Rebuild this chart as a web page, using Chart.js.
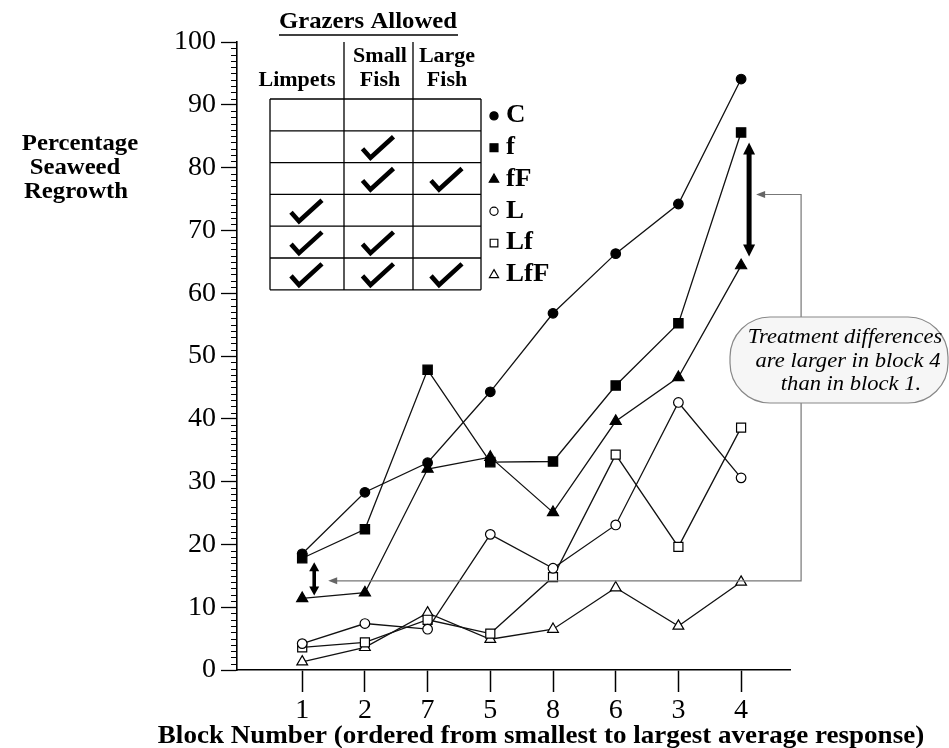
<!DOCTYPE html>
<html>
<head>
<meta charset="utf-8">
<script src="https://cdn.jsdelivr.net/npm/chart.js@4.4.1/dist/chart.umd.min.js"></script>
<style>
  html, body { margin: 0; padding: 0; background: #fff; }
</style>
</head>
<body>
<canvas id="myChart" width="949" height="748"></canvas>
<script>
'use strict';

// blocks, in the order they appear on the x axis
const blocks = ['1', '2', '7', '5', '8', '6', '3', '4'];
const treatments = ['C', 'f', 'fF', 'L', 'Lf', 'LfF'];

// percentage seaweed regrowth per block
const valuesC = [18.5, 28.3, 33.0, 44.3, 56.8, 66.3, 74.2, 94.1];
const valuesF = [17.8, 22.4, 47.8, 33.1, 33.2, 45.3, 55.2, 85.6];
const valuesFF = [11.4, 12.3, 32.0, 33.9, 25.1, 39.6, 46.6, 64.4];
const valuesL = [4.2, 7.4, 6.5, 21.6, 16.2, 23.1, 42.6, 30.6];
const valuesLf = [3.6, 4.4, 8.0, 5.8, 14.8, 34.3, 19.6, 38.6];
const valuesLfF = [1.3, 3.6, 9.1, 4.9, 6.5, 13.1, 7.0, 14.0];

// which grazers were let in, per treatment
const limpets = [false, false, false, true, true, true];
const smallFish = [false, true, true, false, true, true];
const largeFish = [false, false, true, false, false, true];

const yTicks = [0, 10, 20, 30, 40, 50, 60, 70, 80, 90, 100];

const serif = '"Liberation Serif", "Times New Roman", serif';
const stretch = 1.1;

const markers = [
    { style: 'circle', radius: 4.8, filled: true },
    { style: 'rect', radius: 6.6, filled: true },
    { style: 'triangle', radius: 6.4, filled: true },
    { style: 'circle', radius: 4.8, filled: false },
    { style: 'rect', radius: 6.4, filled: false },
    { style: 'triangle', radius: 6.2, filled: false },
];

const allValues = [valuesC, valuesF, valuesFF, valuesL, valuesLf, valuesLfF];

const datasets = treatments.map((name, k) => ({
    label: name,
    data: allValues[k].map((v, i) => ({ x: i, y: v })),
    borderColor: '#111',
    borderWidth: 1.3,
    tension: 0,
    pointStyle: markers[k].style,
    pointRadius: markers[k].radius,
    pointBorderWidth: 1.2,
    pointBorderColor: '#000',
    pointBackgroundColor: markers[k].filled ? '#000' : '#fff',
}));

function drawText(ctx, text, x, y, font, align) {
    ctx.save();
    ctx.font = font;
    ctx.fillStyle = '#000';
    ctx.textAlign = align || 'center';
    ctx.textBaseline = 'middle';
    ctx.translate(x, y);
    ctx.scale(stretch, 1);
    ctx.fillText(text, 0, 0);
    ctx.restore();
}

function drawCheck(ctx, cx, cy) {
    ctx.save();
    ctx.beginPath();
    ctx.moveTo(cx - 16, cy + 1);
    ctx.lineTo(cx - 8, cy + 10);
    ctx.lineTo(cx + 15, cy - 11);
    ctx.lineWidth = 4.6;
    ctx.strokeStyle = '#000';
    ctx.lineJoin = 'miter';
    ctx.stroke();
    ctx.restore();
}

function doubleArrow(ctx, x, y1, y2, w, hw, hl) {
    ctx.save();
    ctx.strokeStyle = '#000';
    ctx.fillStyle = '#000';
    ctx.lineWidth = w;
    ctx.beginPath();
    ctx.moveTo(x, y1 + hl - 1);
    ctx.lineTo(x, y2 - hl + 1);
    ctx.stroke();
    ctx.beginPath();
    ctx.moveTo(x, y1);
    ctx.lineTo(x - hw / 2, y1 + hl);
    ctx.lineTo(x + hw / 2, y1 + hl);
    ctx.closePath();
    ctx.fill();
    ctx.beginPath();
    ctx.moveTo(x, y2);
    ctx.lineTo(x - hw / 2, y2 - hl);
    ctx.lineTo(x + hw / 2, y2 - hl);
    ctx.closePath();
    ctx.fill();
    ctx.restore();
}

function arrowHeadLeft(ctx, x, y) {
    ctx.beginPath();
    ctx.moveTo(x, y);
    ctx.lineTo(x + 9, y - 3.5);
    ctx.lineTo(x + 9, y + 3.5);
    ctx.closePath();
    ctx.fill();
}

// minor ticks on the y axis, every 1 %
const minorTicks = {
    id: 'minorTicks',
    afterDraw(chart) {
        const ctx = chart.ctx;
        const y = chart.scales.y;
        const left = chart.chartArea.left;
        ctx.save();
        ctx.strokeStyle = '#000';
        ctx.lineWidth = 1;
        for (let v = 0; v <= 100; v++) {
            if (v % 10 === 0) continue;
            const py = Math.round(y.getPixelForValue(v)) + 0.5;
            ctx.beginPath();
            ctx.moveTo(left - 6, py);
            ctx.lineTo(left, py);
            ctx.stroke();
        }
        ctx.restore();
    },
};

// arrows and the note box
const notes = {
    id: 'notes',
    afterDatasetsDraw(chart) {
        const ctx = chart.ctx;
        const xs = chart.scales.x;
        const ys = chart.scales.y;
        const last = blocks.length - 1;

        const x1 = xs.getPixelForValue(0) + 12;
        const a1 = ys.getPixelForValue(valuesF[0]) + 4;
        const b1 = ys.getPixelForValue(valuesFF[0]) - 3;
        const x4 = xs.getPixelForValue(last) + 8;
        const a4 = ys.getPixelForValue(valuesF[last]) + 10;
        const b4 = ys.getPixelForValue(valuesFF[last]) - 9;

        const mid1 = (a1 + b1) / 2 + 2;
        const mid4 = (a4 + b4) / 2 - 5;
        const vx = xs.getPixelForValue(last) + 60;
        const boxTop = 317;
        const boxBottom = 403;

        // grey connector
        ctx.save();
        ctx.strokeStyle = '#777';
        ctx.fillStyle = '#666';
        ctx.lineWidth = 1.2;
        ctx.beginPath();
        ctx.moveTo(x1 + 22, mid1);
        ctx.lineTo(vx, mid1);
        ctx.lineTo(vx, boxBottom);
        ctx.moveTo(vx, boxTop);
        ctx.lineTo(vx, mid4);
        ctx.lineTo(x4 + 14, mid4);
        ctx.stroke();
        arrowHeadLeft(ctx, x1 + 14, mid1);
        arrowHeadLeft(ctx, x4 + 7, mid4);
        ctx.restore();

        doubleArrow(ctx, x1, a1, b1, 3.6, 10, 9);
        doubleArrow(ctx, x4, a4, b4, 5, 12, 12);

        // rounded note box
        ctx.save();
        ctx.beginPath();
        ctx.roundRect(730, boxTop, 218, boxBottom - boxTop, 40);
        ctx.fillStyle = '#f6f6f6';
        ctx.fill();
        ctx.strokeStyle = '#888';
        ctx.lineWidth = 1.2;
        ctx.stroke();
        ctx.restore();

        const noteFont = 'italic 20.5px ' + serif;
        drawText(ctx, 'Treatment differences', 845, 338, noteFont);
        drawText(ctx, 'are larger in block 4', 848, 362, noteFont);
        drawText(ctx, 'than in block 1.', 851, 385, noteFont);
    },
};

// grazer table, legend and axis titles
const tableLegend = {
    id: 'tableLegend',
    afterDraw(chart) {
        const ctx = chart.ctx;
        const cols = [270, 344, 413, 481];
        const rowTop = 99;
        const rowH = 31.8;

        drawText(ctx, 'Grazers Allowed', 368, 22, 'bold 22.5px ' + serif);
        ctx.save();
        ctx.strokeStyle = '#000';
        ctx.lineWidth = 1.5;
        ctx.beginPath();
        ctx.moveTo(279, 35);
        ctx.lineTo(458, 35);
        ctx.stroke();

        ctx.lineWidth = 1.3;
        ctx.beginPath();
        ctx.moveTo(cols[1], 42);
        ctx.lineTo(cols[1], rowTop);
        ctx.moveTo(cols[2], 42);
        ctx.lineTo(cols[2], rowTop);
        for (let r = 0; r <= treatments.length; r++) {
            const y = rowTop + r * rowH;
            ctx.moveTo(cols[0], y);
            ctx.lineTo(cols[3], y);
        }
        cols.forEach((c) => {
            ctx.moveTo(c, rowTop);
            ctx.lineTo(c, rowTop + treatments.length * rowH);
        });
        ctx.stroke();
        ctx.restore();

        const headFont = 'bold 20px ' + serif;
        drawText(ctx, 'Limpets', 297, 81, headFont);
        drawText(ctx, 'Small', 380, 57, headFont);
        drawText(ctx, 'Fish', 380, 81, headFont);
        drawText(ctx, 'Large', 447, 57, headFont);
        drawText(ctx, 'Fish', 447, 81, headFont);

        const centres = [307, 378.5, 447];
        const grazers = [limpets, smallFish, largeFish];
        treatments.forEach((name, r) => {
            const cy = rowTop + r * rowH + rowH / 2;
            grazers.forEach((g, c) => {
                if (g[r]) drawCheck(ctx, centres[c], cy + 1);
            });
            const m = markers[r];
            ctx.save();
            ctx.fillStyle = m.filled ? '#000' : '#fff';
            ctx.strokeStyle = '#000';
            ctx.lineWidth = 1.2;
            Chart.helpers.drawPoint(ctx, {
                pointStyle: m.style,
                radius: m.radius * 0.85,
                rotation: 0,
                borderWidth: 1.2,
            }, 494, cy + 1);
            ctx.restore();
            drawText(ctx, name, 506, cy + 1, 'bold 24.5px ' + serif, 'left');
        });

        const titleFont = 'bold 22.5px ' + serif;
        drawText(ctx, 'Percentage', 80, 144, titleFont);
        drawText(ctx, 'Seaweed', 75, 168, titleFont);
        drawText(ctx, 'Regrowth', 76, 192, titleFont);

        drawText(ctx, 'Block Number (ordered from smallest to largest average response)',
            541, 737, 'bold 24.6px ' + serif);
    },
};

const myChart = new Chart(document.getElementById('myChart'), {
    type: 'line',
    data: { datasets: datasets },
    options: {
        responsive: false,
        animation: false,
        devicePixelRatio: 1,
        layout: {
            padding: { left: 0, top: 42, right: 159, bottom: 0 },
        },
        plugins: {
            legend: { display: false },
            tooltip: { enabled: false },
        },
        scales: {
            x: {
                type: 'linear',
                min: -1.04,
                max: 7.78,
                afterFit: (scale) => { scale.height = 78; },
                afterBuildTicks: (scale) => {
                    scale.ticks = blocks.map((b, i) => ({ value: i }));
                },
                grid: {
                    drawOnChartArea: false,
                    drawTicks: true,
                    tickLength: 22,
                    tickColor: '#000',
                    tickWidth: 1.5,
                },
                border: { display: true, color: '#000', width: 1.6 },
                ticks: {
                    autoSkip: false,
                    maxRotation: 0,
                    padding: 2,
                    color: '#000',
                    font: { family: serif, size: 28 },
                    callback: (value) => blocks[value],
                },
            },
            y: {
                min: 0,
                max: 100,
                afterFit: (scale) => { scale.width = 237; },
                afterBuildTicks: (scale) => {
                    scale.ticks = yTicks.map((v) => ({ value: v }));
                },
                grid: {
                    drawOnChartArea: false,
                    drawTicks: true,
                    tickLength: 16,
                    tickColor: '#000',
                    tickWidth: 1.3,
                },
                border: { display: true, color: '#000', width: 1.6 },
                ticks: {
                    padding: 5,
                    color: '#000',
                    font: { family: serif, size: 28 },
                },
            },
        },
    },
    plugins: [minorTicks, notes, tableLegend],
});
</script>
</body>
</html>
